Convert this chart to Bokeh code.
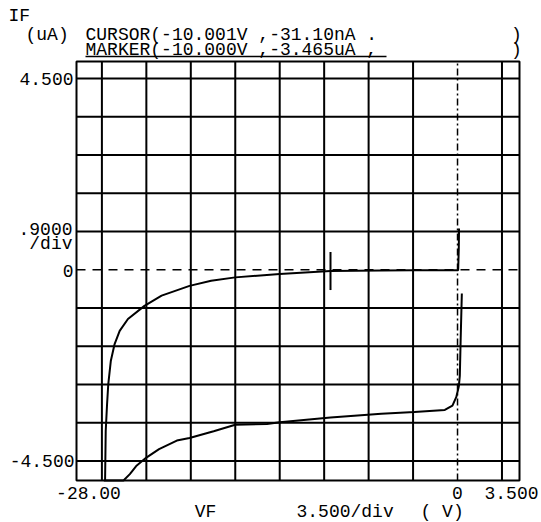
import math
from bokeh.plotting import figure
from bokeh.models import Range1d
from bokeh.core.properties import value
from bokeh.embed import file_html
from bokeh.resources import INLINE

# ---------------- data ----------------
# upper trace (VF [V], IF [uA])
up_v = [-27.75, -27.7, -27.6, -27.5, -27.3, -27.0, -26.6, -25.95, -24.65, -23.3,
        -21.1, -19.4, -17.5, -14.0, -10.0, -6.0, -3.5, 0.05, 0.1, 0.12]
up_i = [-4.96, -3.8, -3.2, -2.7, -2.15, -1.75, -1.44, -1.16, -0.85, -0.61,
        -0.38, -0.26, -0.18, -0.10, -0.031, -0.02, -0.015, -0.01, 0.5, 0.97]
# lower trace
lo_v = [-27.85, -26.3, -25.8, -25.3, -24.5, -23.5, -22.1, -21.1, -19.2, -17.5,
        -15.0, -14.0, -10.0, -6.0, -3.4, -1.0, -0.4, -0.1, 0.1, 0.18, 0.25, 0.34]
lo_i = [-4.96, -4.96, -4.81, -4.62, -4.42, -4.22, -4.02, -3.96, -3.80, -3.65,
        -3.63, -3.59, -3.48, -3.39, -3.35, -3.30, -3.2, -3.0, -2.75, -2.5, -1.6, -0.56]

cursor_v, cursor_i = -10.001, -0.0311
x_ticks = [-28.0, -24.5, -21.0, -17.5, -14.0, -10.5, -7.0, -3.5, 0.0, 3.5]
y_ticks = [-4.5, -3.6, -2.7, -1.8, -0.9, 0.0, 0.9, 1.8, 2.7, 3.6, 4.5]

header_if = "IF"
header_unit = "(uA)"
cursor_text = "CURSOR(-10.001V ,-31.10nA ."
marker_text = "MARKER(-10.000V ,-3.465uA ,"
close_text = ")"
xlab_left, xlab_zero, xlab_right = "-28.00", "0", "3.500"
ylab_top, ylab_zero, ylab_bot = "4.500", "0", "-4.500"
ydiv1, ydiv2 = ".9000", "/div"
xname, xdiv, xunit = "VF", "3.500/div", "( V)"

# ---------------- layout ----------------
# data box of the instrument screen
X0, X1 = -30.0, 4.88
Y0, Y1 = -4.96, 4.9
FL, FR, FT, FB = 76, 519, 61, 480     # pixel position of the box
W, H = 541, 522

def px2x(px):
    return X0 + (px - FL) * (X1 - X0) / (FR - FL)

def py2y(py):
    return Y1 - (py - FT) * (Y1 - Y0) / (FB - FT)

p = figure(width=W, height=H, output_backend="svg", toolbar_location=None,
           x_range=Range1d(px2x(0), px2x(W)), y_range=Range1d(py2y(H), py2y(0)),
           x_axis_location=None, y_axis_location=None)
p.min_border_left = 0
p.min_border_right = 0
p.min_border_top = 0
p.min_border_bottom = 0
p.outline_line_color = None
p.background_fill_color = "white"
p.border_fill_color = "white"
for g in p.grid:
    g.visible = False

# grid
solid_x = [t for t in x_ticks if t != 0]
solid_y = [t for t in y_ticks if t != 0]
p.segment(x0=solid_x, y0=[Y0] * len(solid_x), x1=solid_x, y1=[Y1] * len(solid_x),
          line_color="black", line_width=2)
p.segment(x0=[X0] * len(solid_y), y0=solid_y, x1=[X1] * len(solid_y), y1=solid_y,
          line_color="black", line_width=2)
p.segment(x0=[0.0], y0=[Y0], x1=[0.0], y1=[Y1], line_color="black",
          line_width=1.5, line_dash="7 3 2 3")
p.segment(x0=[X0], y0=[0.0], x1=[X1], y1=[0.0], line_color="black",
          line_width=1.5, line_dash="9 7")
p.quad(left=[X0], right=[X1], bottom=[Y0], top=[Y1], fill_color=None,
       line_color="black", line_width=2)

# traces
p.line(up_v, up_i, line_color="black", line_width=2)
p.line(lo_v, lo_i, line_color="black", line_width=2)
p.scatter([cursor_v], [cursor_i], marker="dash", angle=math.pi / 2, size=38,
          line_color="black", line_width=2)

FONT = value("Liberation Mono")
FS = "18px"

def lab(px, py, text, align="left", baseline="middle"):
    p.text(x=[px2x(px)], y=[py2y(py)], text=[text], text_font=FONT,
           text_font_size=FS, text_color="black", text_align=align,
           text_baseline=baseline)

# header
lab(8, 15, header_if)
lab(25, 34, header_unit)
lab(85, 34, cursor_text)
lab(516, 34, close_text, align="center")
lab(85, 49, marker_text)
lab(516, 49, close_text, align="center")
p.segment(x0=[px2x(85)], y0=[py2y(56)], x1=[px2x(386)], y1=[py2y(56)],
          line_color="black", line_width=1.5)

# y labels
lab(73, 78, ylab_top, align="right", baseline="alphabetic")
lab(73, 270, ylab_zero, align="right")
lab(74, 460, ylab_bot, align="right", baseline="alphabetic")
lab(72, 228, ydiv1, align="right", baseline="alphabetic")
lab(72, 243, ydiv2, align="right")

# x labels
lab(88, 492, xlab_left, align="center")
lab(457, 492, xlab_zero, align="center")
lab(511, 492, xlab_right, align="center")
lab(205, 511, xname, align="center")
lab(296, 511, xdiv)
lab(420, 511, xunit)

open("out.html", "w").write(file_html(p, INLINE))
